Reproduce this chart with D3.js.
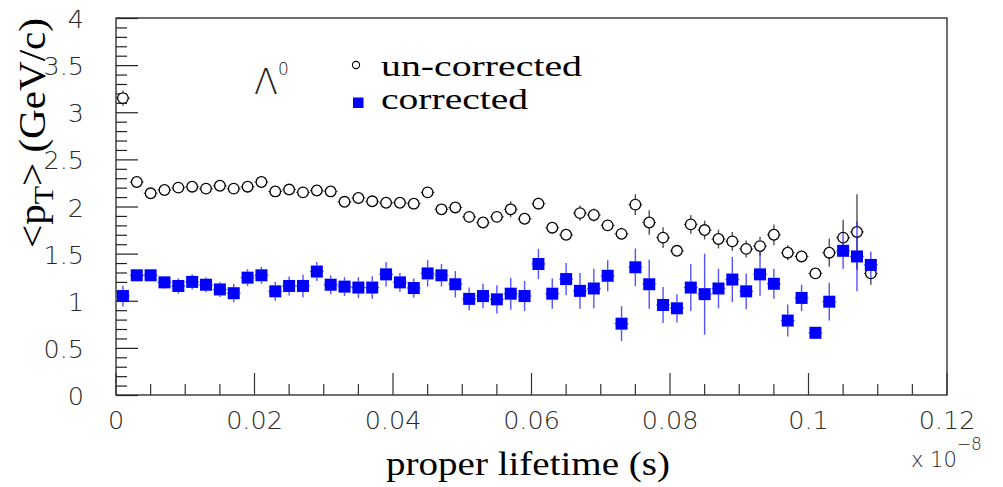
<!DOCTYPE html>
<html><head><meta charset="utf-8">
<script src="https://cdn.jsdelivr.net/npm/d3@7"></script>
<style>body{margin:0;background:#fff}svg{display:block}</style>
</head><body>
<svg id="c" width="1003" height="487"></svg>
<script>
const tau = [0.001,0.003,0.005,0.007,0.009,0.011,0.013,0.015,0.017,0.019,0.021,0.023,0.025,0.027,0.029,0.031,0.033,0.035,0.037,0.039,0.041,0.043,0.045,0.047,0.049,0.051,0.053,0.055,0.057,0.059,0.061,0.063,0.065,0.067,0.069,0.071,0.073,0.075,0.077,0.079,0.081,0.083,0.085,0.087,0.089,0.091,0.093,0.095,0.097,0.099,0.101,0.103,0.105,0.107,0.109];
const tauHalfWidth = 0.001;
const uncorrected = [3.15,2.26,2.14,2.175,2.20,2.21,2.19,2.22,2.19,2.21,2.26,2.16,2.18,2.15,2.17,2.16,2.05,2.09,2.055,2.04,2.04,2.03,2.15,1.97,1.99,1.89,1.83,1.89,1.97,1.87,2.03,1.775,1.70,1.93,1.91,1.80,1.71,2.02,1.83,1.67,1.53,1.81,1.75,1.655,1.63,1.55,1.58,1.70,1.51,1.47,1.29,1.51,1.67,1.73,1.29];
const uncorrectedErr = [0.08,0.03,0.03,0.03,0.03,0.03,0.03,0.03,0.03,0.03,0.03,0.03,0.03,0.03,0.03,0.03,0.04,0.04,0.04,0.04,0.04,0.04,0.05,0.04,0.05,0.06,0.05,0.05,0.085,0.06,0.065,0.05,0.05,0.08,0.07,0.06,0.065,0.11,0.13,0.11,0.05,0.10,0.10,0.10,0.10,0.09,0.10,0.11,0.08,0.05,0.05,0.15,0.19,0.40,0.12];
const corrected = [1.05,1.27,1.27,1.195,1.157,1.20,1.17,1.12,1.08,1.245,1.27,1.10,1.157,1.157,1.31,1.17,1.15,1.14,1.14,1.28,1.195,1.135,1.29,1.27,1.175,1.02,1.05,1.015,1.075,1.05,1.39,1.075,1.23,1.105,1.13,1.265,0.757,1.355,1.175,0.955,0.92,1.14,1.07,1.13,1.225,1.10,1.28,1.18,0.79,1.03,0.66,0.99,1.53,1.47,1.38];
const correctedErr = [0.11,0.05,0.05,0.067,0.08,0.08,0.08,0.08,0.097,0.09,0.09,0.10,0.10,0.12,0.10,0.10,0.10,0.11,0.12,0.13,0.10,0.10,0.14,0.12,0.14,0.12,0.13,0.15,0.17,0.16,0.16,0.16,0.17,0.19,0.21,0.165,0.185,0.20,0.26,0.19,0.15,0.25,0.43,0.21,0.24,0.19,0.23,0.16,0.17,0.14,0.05,0.20,0.19,0.37,0.14];
const xMajorTicks = [0,0.02,0.04,0.06,0.08,0.1,0.12];
const xTickLabels = ["0","0.02","0.04","0.06","0.08","0.1","0.12"];
const yMajorTicks = [0,0.5,1,1.5,2,2.5,3,3.5,4];
const yTickLabels = ["0","0.5","1","1.5","2","2.5","3","3.5","4"];
const legendLabels = ["un-corrected","corrected"];

const svg = d3.select("#c");
const L=116,R=947,T=18,B=395;
const x = d3.scaleLinear().domain([0,0.12]).range([L,R]);
const y = d3.scaleLinear().domain([0,4]).range([B,T]);
const tickFont = "'DejaVu Sans', sans-serif";
const serif = "'Liberation Serif','Times New Roman',serif";

// frame
svg.append("rect").attr("x",L).attr("y",T).attr("width",R-L).attr("height",B-T)
  .attr("fill","none").attr("stroke","#111").attr("stroke-width",1.2);

// y axis ticks (inward)
const yMinor = d3.range(0,40.5,1).map(d=>d/10);
svg.append("g").selectAll("line").data(yMinor).join("line")
  .attr("x1",L).attr("x2",d=>L+(Math.abs(d*2-Math.round(d*2))<1e-6?22:11))
  .attr("y1",d=>y(d)+0.5).attr("y2",d=>y(d)+0.5).attr("stroke","#222").attr("stroke-width",1.2);
// x axis ticks
const xMinor = d3.range(0,24.5,1).map(d=>d*0.005);
svg.append("g").selectAll("line").data(xMinor).join("line")
  .attr("x1",d=>x(d)).attr("x2",d=>x(d))
  .attr("y1",B).attr("y2",(d,i)=>B-(i%4===0?22:11)).attr("stroke","#333").attr("stroke-width",1.2);

function stretch(sel, f){
  sel.each(function(){ const n=this.getComputedTextLength(); d3.select(this).attr("textLength",n*f).attr("lengthAdjust","spacingAndGlyphs"); });
}
// tick labels
svg.append("g").selectAll("text").data(yMajorTicks).join("text")
  .attr("x",84).attr("y",d=>y(d)+10).attr("text-anchor","end")
  .attr("font-family",tickFont).attr("font-weight",200).attr("font-size",24).attr("fill","#2a2a2a")
  .text((d,i)=>yTickLabels[i]).call(stretch,1.06);
svg.append("g").selectAll("text").data(xMajorTicks).join("text")
  .attr("x",d=>x(d)).attr("y",429).attr("text-anchor","middle")
  .attr("font-family",tickFont).attr("font-weight",200).attr("font-size",24).attr("fill","#2a2a2a")
  .text((d,i)=>xTickLabels[i]).call(stretch,1.06);
// exponent
const ex = svg.append("text").attr("x",911).attr("y",467).attr("font-family",tickFont).attr("font-weight",200).attr("font-size",21).attr("fill","#2a2a2a");
ex.append("tspan").text("x 10");
ex.append("tspan").attr("dy",-17).attr("font-size",17).text("\u22128");

// axis titles
svg.append("text").attr("x",386).attr("y",475).attr("font-family",serif).attr("font-size",34).attr("fill","#000")
  .attr("textLength",284).attr("lengthAdjust","spacingAndGlyphs").text("proper lifetime (s)");
const yt = svg.append("text").attr("transform","translate(45,248) rotate(-90)").attr("font-family",serif).attr("font-size",37).attr("fill","#000")
  .attr("textLength",230).attr("lengthAdjust","spacingAndGlyphs");
yt.append("tspan").text("<p");
yt.append("tspan").attr("dy",8).attr("font-size",27).text("T");
yt.append("tspan").attr("dy",-8).text("> (GeV/c)");

// Lambda label
const lam = svg.append("text").attr("x",254).attr("y",94).attr("font-family",tickFont).attr("font-weight",200).attr("font-size",35).attr("fill","#222");
lam.append("tspan").text("\u039B");
lam.append("tspan").attr("dy",-19).attr("font-size",17).text("0");

// error bars
function errBars(g, vals, errs, color, half, op){
  const data = tau.map((t,i)=>({t, v:vals[i], e:errs[i]}));
  g.selectAll("line.up").data(data.filter(d=>y(d.v)-y(d.v+d.e)>half)).join("line").attr("class","up")
    .attr("x1",d=>x(d.t)).attr("x2",d=>x(d.t)).attr("y1",d=>y(d.v+d.e)).attr("y2",d=>y(d.v)-half)
    .attr("stroke",color).attr("stroke-width",1.4).attr("opacity",op);
  g.selectAll("line.dn").data(data.filter(d=>y(d.v-d.e)-y(d.v)>half)).join("line").attr("class","dn")
    .attr("x1",d=>x(d.t)).attr("x2",d=>x(d.t)).attr("y1",d=>y(d.v)+half).attr("y2",d=>y(d.v-d.e))
    .attr("stroke",color).attr("stroke-width",1.4).attr("opacity",op);
  g.selectAll("line.h").data(data).join("line").attr("class","h")
    .attr("x1",d=>x(d.t-tauHalfWidth)).attr("x2",d=>x(d.t+tauHalfWidth)).attr("y1",d=>y(d.v)).attr("y2",d=>y(d.v))
    .attr("stroke",color).attr("stroke-width",1.2).attr("opacity",op);
}
const gU = svg.append("g"); errBars(gU, uncorrected, uncorrectedErr, "#333", 5.5, 0.85);
gU.selectAll("circle").data(tau).join("circle")
  .attr("cx",d=>x(d)).attr("cy",(d,i)=>y(uncorrected[i])).attr("r",5.3)
  .attr("fill","#fff").attr("stroke","#000").attr("stroke-width",1.3);
const gC = svg.append("g"); errBars(gC, corrected, correctedErr, "#1a1aff", 6, 0.75);
gC.selectAll("rect").data(tau).join("rect")
  .attr("x",d=>x(d)-6).attr("y",(d,i)=>y(corrected[i])-6).attr("width",12).attr("height",12)
  .attr("fill","#0000ff");

// legend
svg.append("circle").attr("cx",356).attr("cy",65).attr("r",3.6).attr("fill","none").attr("stroke","#000").attr("stroke-width",1.1);
svg.append("rect").attr("x",353).attr("y",97.5).attr("width",10.5).attr("height",10.5).attr("fill","#0000ff");
svg.append("text").attr("x",381).attr("y",76).attr("font-family",serif).attr("font-size",29.5).attr("fill","#000")
  .attr("textLength",201).attr("lengthAdjust","spacingAndGlyphs").text(legendLabels[0]);
svg.append("text").attr("x",381).attr("y",109).attr("font-family",serif).attr("font-size",29.5).attr("fill","#000")
  .attr("textLength",147).attr("lengthAdjust","spacingAndGlyphs").text(legendLabels[1]);
</script>
</body></html>
